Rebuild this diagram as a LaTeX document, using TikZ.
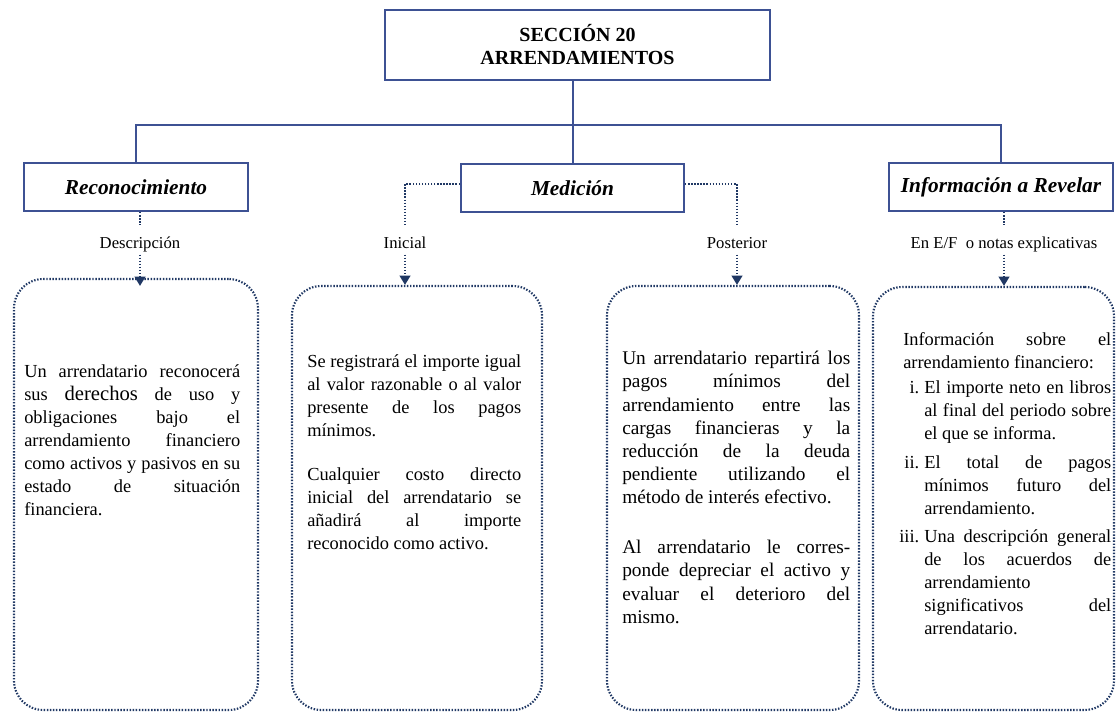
\documentclass[tikz,border=0pt]{standalone}
\usepackage{fontspec}
\setmainfont{Liberation Serif}
\usepackage{enumitem}
\usepackage{tikz}
\usetikzlibrary{positioning}
\usetikzlibrary{shapes,arrows.meta}

\definecolor{frameBlue}{HTML}{3D5193}
\definecolor{dotBlue}{HTML}{203864}

\begin{document}
\begin{tikzpicture}[x=0.75pt, y=-0.75pt, >={Triangle[width=8pt,length=7pt]}]
            % Set primary nodes
            \tikzset{
                titleNode/.style={
                        rectangle,
                        draw=frameBlue,
                        line width=1.5pt,
                        minimum width=288.75pt,
                        minimum height=52.5pt,
                        align=center,
                        font=\fontsize{15}{17.25}\selectfont\bfseries
                    }
            }
            \tikzset{
                headNode/.style={
                        rectangle,
                        draw=frameBlue,
                        line width=1.5pt,
                        minimum width=168pt,
                        minimum height=36pt,
                        font=\fontsize{16}{19}\selectfont\bfseries\itshape
                    }
            }
            \tikzset{
                labelNode/.style={
                        anchor=base,
                        inner sep=1pt,
                        text height=17pt,
                        text depth=3pt,
                        font=\fontsize{12.5}{15}\selectfont
                    }
            }
            \tikzset{
                dotLine/.style={
                        draw=dotBlue,
                        line width=1.6pt,
                        dash pattern=on 1.1pt off 1.2pt
                    }
            }
            \tikzset{
                textBox/.style={
                        dotLine,
                        rectangle,
                        rounded corners=22pt
                    }
            }
            \tikzset{
                bodyText/.style={
                        inner sep=0pt,
                        anchor=north west,
                        align=justify,
                        font=\fontsize{13.8}{17.25}\selectfont
                    }
            }
            \useasboundingbox (0,0) rectangle (1116,712);
            % Placing nodes
            \node[titleNode](title) at (577.5,45){SECCIÓN 20\\ARRENDAMIENTOS};
            \node[headNode](reco) at (136,187){Reconocimiento};
            \node[headNode, minimum width=167.25pt](medi) at (572.5,188){Medición};
            \node[headNode](info) at (1001,187){Información a Revelar};
            \node[labelNode](desc) at (140,249){Descripción};
            \node[labelNode](ini) at (405,249){Inicial};
            \node[labelNode](post) at (737,249){Posterior};
            \node[labelNode](notas) at (1004,249){En E/F\ \ o notas explicativas};
            \node[textBox, minimum width=183pt, minimum height=323.25pt](boxReco) at (136,494.5){};
            \node[textBox, minimum width=187.5pt, minimum height=318pt](boxIni) at (417,498){};
            \node[textBox, minimum width=189pt, minimum height=318pt](boxPost) at (733,498){};
            \node[textBox, minimum width=180.75pt, minimum height=317.25pt](boxInfo) at (993.5,498.5){};
            % Box texts
            \node[bodyText, text width=162pt](txtReco) at (24,364){Un arrendatario reconocerá\linebreak
                sus {\fontsize{15.5}{17.25}\selectfont derechos} de uso y\linebreak
                obligaciones bajo el\linebreak
                arrendamiento financiero\linebreak
                como activos y pasivos en su\linebreak
                estado de situación\linebreak
                financiera.};
            \node[bodyText, text width=160.5pt](txtIni) at (307,354){Se registrará el importe igual\linebreak
                al valor razonable o al valor\linebreak
                presente de los pagos\linebreak
                mínimos.\par\vspace{16pt}
                Cualquier costo directo\linebreak
                inicial del arrendatario se\linebreak
                añadirá al importe\linebreak
                reconocido como activo.};
            \node[bodyText, text width=171pt, font=\fontsize{14.5}{17.4}\selectfont](txtPost) at (622,351){Un arrendatario repartirá los\linebreak
                pagos mínimos del\linebreak
                arrendamiento entre las\linebreak
                cargas financieras y la\linebreak
                reducción de la deuda\linebreak
                pendiente utilizando el\linebreak
                método de interés efectivo.\par\vspace{20pt}
                Al arrendatario le corres-\linebreak
                ponde depreciar el activo y\linebreak
                evaluar el deterioro del\linebreak
                mismo.};
            \node[bodyText, text width=156pt](txtInfo) at (903,332){Información sobre el\linebreak
                arrendamiento financiero:
                \begin{enumerate}[label=\roman*., leftmargin=15.75pt, labelsep=3.75pt, topsep=2pt, itemsep=4pt, parsep=0pt, partopsep=0pt]
                    \item El importe neto en libros\linebreak al final del periodo sobre\linebreak el que se informa.
                    \item El total de pagos\linebreak mínimos futuro del\linebreak arrendamiento.
                    \item Una descripción general\linebreak de los acuerdos de\linebreak arrendamiento\newline significativos del\linebreak arrendatario.
                \end{enumerate}};
            % Placing lines
            \coordinate (split) at (572.5,125);
            \draw[frameBlue, line width=1.5pt](title.south -| medi.north) -- (medi.north);
            \draw[frameBlue, line width=1.5pt](reco.north) |- (split) -| (info.north);
            \draw[dotLine](reco.south -| desc) -- (desc.north);
            \draw[dotLine, ->, shorten >=-6pt](desc.south) -- (desc.south |- boxReco.north);
            \draw[dotLine]([yshift=3pt]medi.west) -| (ini.north);
            \draw[dotLine, ->](ini.south) -- (ini.south |- boxIni.north);
            \draw[dotLine]([yshift=3pt]medi.east) -| (post.north);
            \draw[dotLine, ->](post.south) -- (post.south |- boxPost.north);
            \draw[dotLine](info.south -| notas) -- (notas.north);
            \draw[dotLine, ->](notas.south) -- (notas.south |- boxInfo.north);
        \end{tikzpicture}
\end{document}
